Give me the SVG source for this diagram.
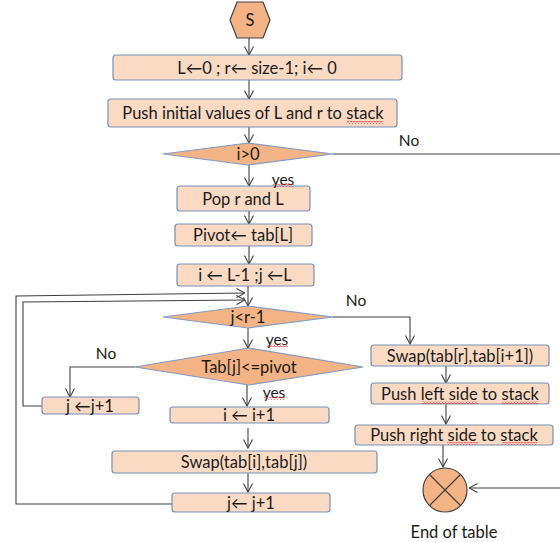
<svg xmlns="http://www.w3.org/2000/svg" width="560" height="542" viewBox="0 0 560 542">
  <defs>
    <style>
      .box { fill: #FBDAC3; stroke: #7690B8; stroke-width: 1.2; }
      .dec { fill: #F4B385; stroke: #7F9BC6; stroke-width: 1.2; }
      .term { fill: #F4B385; stroke: #404040; stroke-width: 1.2; }
      .t { font-family: Lato, "Open Sans", "DejaVu Sans", sans-serif; font-size: 16.5px; fill: #1a1a1a; text-anchor: middle; dominant-baseline: central; }
      .lbl { font-family: Lato, "Open Sans", "DejaVu Sans", sans-serif; font-size: 15.5px; fill: #1a1a1a; text-anchor: middle; dominant-baseline: central; }
      .c { fill: none; stroke: #404040; stroke-width: 1.1; }
      .ca { fill: none; stroke: #404040; stroke-width: 1.1; marker-end: url(#arr); }
      .sq { fill: url(#wave); }
    </style>
    <marker id="arr" viewBox="0 0 10 10" refX="9.5" refY="5" markerWidth="10" markerHeight="10" markerUnits="userSpaceOnUse" orient="auto">
      <path d="M1,0.5 L9.5,5 L1,9.5" fill="none" stroke="#404040" stroke-width="1.1"/>
    </marker>
    <pattern id="wave" width="3" height="3" patternUnits="userSpaceOnUse">
      <path d="M0,2.5 L1.5,0.5 L3,2.5" fill="none" stroke="#E03030" stroke-width="0.8"/>
    </pattern>
  </defs>

  <!-- connectors -->
  <g id="connectors">
    <path class="ca" d="M249,38 V55"/>
    <path class="ca" d="M249,80 V99"/>
    <path class="ca" d="M249,127 V143"/>
    <path class="c" d="M333,154 H560"/>
    <path class="ca" d="M560,488 H469"/>
    <path class="ca" d="M249,165 V186"/>
    <path class="ca" d="M249,211 V224"/>
    <path class="ca" d="M249,246 V264"/>
    <path class="ca" d="M248,286 V306"/>
    <path class="ca" d="M333,317 H410 V344"/>
    <path class="ca" d="M248,328 V348"/>
    <path class="ca" d="M135,367 H70 V397"/>
    <path class="ca" d="M247,385 V406"/>
    <path class="ca" d="M248,428 V448"/>
    <path class="ca" d="M248,473 V492"/>
    <path class="ca" d="M42,406 H23 V302 L245,300"/>
    <path class="ca" d="M172,504 H16 V296 L245,293"/>
    <path class="ca" d="M446,366 V383"/>
    <path class="ca" d="M446,404 V424"/>
    <path class="ca" d="M443,445 V467"/>
  </g>

  <g id="start">
    <polygon class="term" points="230,20 237,2 263,2 270,20 263,38 237,38"/>
    <text class="t" x="250" y="20">S</text>
  </g>

  <g id="init">
    <rect class="box" x="113" y="55" width="289" height="25" rx="3"/>
    <text class="t" x="257" y="68">L←0 ;  r← size-1; i← 0</text>
  </g>

  <g id="push-initial">
    <rect class="box" x="108" y="99" width="289" height="28" rx="3"/>
    <text class="t" x="253" y="113">Push initial values of L and r to stack</text>
    <rect class="sq" x="347" y="121" width="36" height="3"/>
  </g>

  <g id="cond-i">
    <polygon class="dec" points="163,154 248,143 333,154 248,165"/>
    <text class="t" x="248" y="154">i&gt;0</text>
  </g>

  <g id="pop">
    <rect class="box" x="177" y="186" width="133" height="25" rx="3"/>
    <text class="t" x="243" y="199">Pop r and L</text>
  </g>

  <g id="pivot">
    <rect class="box" x="175" y="224" width="137" height="22" rx="3"/>
    <text class="t" x="243" y="235">Pivot← tab[L]</text>
  </g>

  <g id="init-ij">
    <rect class="box" x="177" y="264" width="137" height="22" rx="3"/>
    <text class="t" x="245" y="275">i ← L-1 ;j ←L</text>
  </g>

  <g id="cond-j">
    <polygon class="dec" points="163,317 248,306 333,317 248,328"/>
    <text class="t" x="248" y="317">j&lt;r-1</text>
  </g>

  <g id="cond-pivot">
    <polygon class="dec" points="135,367 249,348 363,367 249,385"/>
    <text class="t" x="249" y="367">Tab[j]&lt;=pivot</text>
  </g>

  <g id="inc-j-left">
    <rect class="box" x="42" y="397" width="97" height="17" rx="3"/>
    <text class="t" x="90" y="405.5">j ←j+1</text>
  </g>

  <g id="inc-i">
    <rect class="box" x="170" y="407" width="159" height="16" rx="3"/>
    <text class="t" x="249" y="415">i ← i+1</text>
  </g>

  <g id="swap-ij">
    <rect class="box" x="112" y="451" width="265" height="22" rx="3"/>
    <text class="t" x="244" y="462">Swap(tab[i],tab[j])</text>
  </g>

  <g id="inc-j">
    <rect class="box" x="172" y="493" width="158" height="19" rx="3"/>
    <text class="t" x="251" y="503">j← j+1</text>
  </g>

  <g id="swap-r">
    <rect class="box" x="371" y="345" width="178" height="21" rx="3"/>
    <text class="t" x="460" y="356">Swap(tab[r],tab[i+1])</text>
  </g>

  <g id="push-left">
    <rect class="box" x="371" y="383" width="178" height="21" rx="3"/>
    <text class="t" x="460" y="394">Push left side to stack</text>
    <rect class="sq" x="422" y="401" width="56" height="3"/>
    <rect class="sq" x="502" y="401" width="36" height="3"/>
  </g>

  <g id="push-right">
    <rect class="box" x="355" y="425" width="198" height="20" rx="3"/>
    <text class="t" x="454" y="435">Push right side to stack</text>
    <rect class="sq" x="447" y="442" width="31" height="3"/>
    <rect class="sq" x="502" y="442" width="35" height="3"/>
  </g>

  <g id="end">
    <circle class="term" cx="445" cy="490" r="22"/>
    <path d="M429.5,474.5 L460.5,505.5 M460.5,474.5 L429.5,505.5" stroke="#404040" stroke-width="1.2" fill="none"/>
    <text class="t" x="454" y="532">End of table</text>
  </g>

  <!-- branch labels -->
  <g id="labels">
    <text class="lbl" x="409" y="140">No</text>
    <text class="lbl" x="356" y="300">No</text>
    <text class="lbl" x="106" y="353">No</text>
    <text class="lbl" x="283" y="179">yes</text>
    <rect class="sq" x="273" y="184" width="21" height="3"/>
    <text class="lbl" x="277" y="339">yes</text>
    <rect class="sq" x="267" y="344" width="21" height="3"/>
    <text class="lbl" x="274" y="392">yes</text>
    <rect class="sq" x="264" y="397" width="21" height="3"/>
  </g>
</svg>
